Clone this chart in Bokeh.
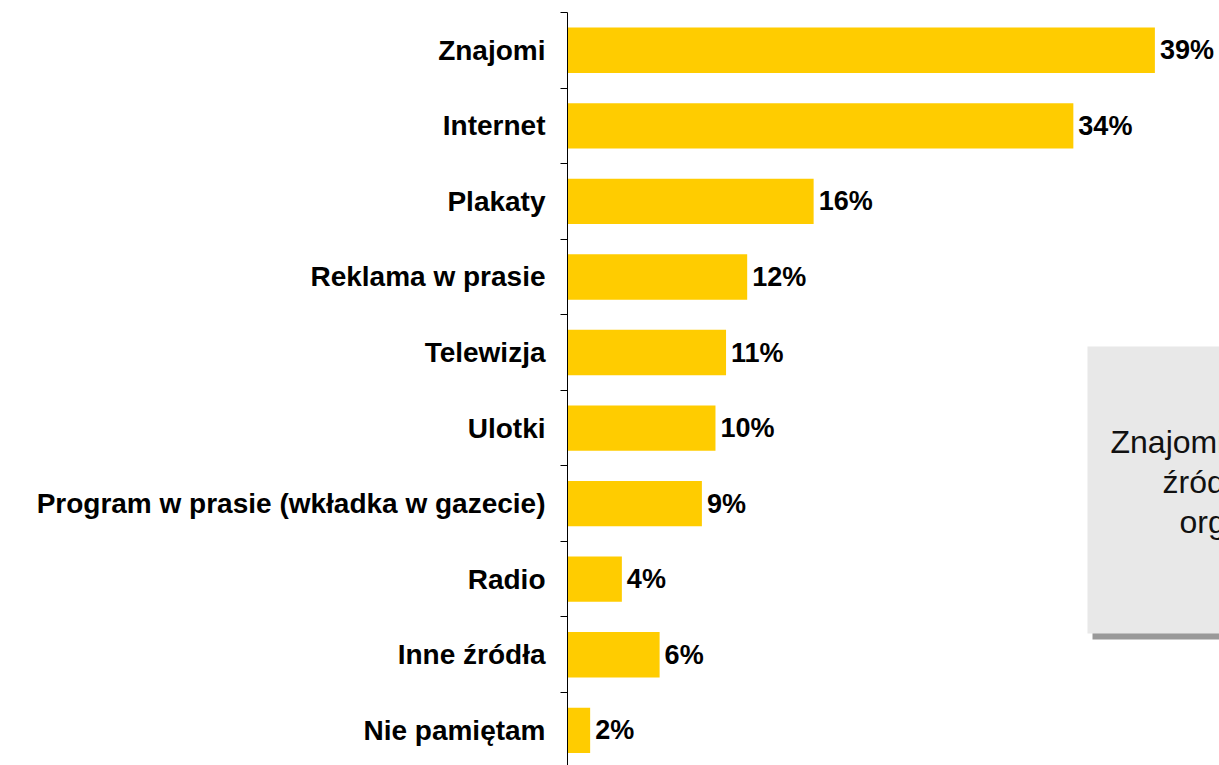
from bokeh.plotting import figure
from bokeh.models import (ColumnDataSource, Range1d, LinearAxis, FixedTicker,
                          BoxAnnotation, Label)
from bokeh.core.properties import value
from bokeh.embed import file_html
from bokeh.resources import INLINE

# ---- data ----
categories = ["Znajomi", "Internet", "Plakaty", "Reklama w prasie", "Telewizja",
              "Ulotki", "Program w prasie (wkładka w gazecie)", "Radio",
              "Inne źródła", "Nie pamiętam"]
values = [38.9, 33.5, 16.3, 11.9, 10.5, 9.8, 8.9, 3.6, 6.1, 1.5]
value_labels = ["39%", "34%", "16%", "12%", "11%", "10%", "9%", "4%", "6%", "2%"]
note_lines = ["Znajomi i Internet to", "źródła wiedzy", "organizacji"]

pos = list(range(len(categories)))
src = ColumnDataSource(dict(y=pos, v=values, lab=value_labels))

FONT = "Liberation Sans"
px_per_unit = 15.1
band = 75.56

p = figure(width=1219, height=765, output_backend="svg", toolbar_location=None,
           x_range=Range1d(0, 652 / px_per_unit),
           y_range=Range1d(start=-0.5 + 753 / band, end=-0.5),
           x_axis_location=None, y_axis_location=None,
           min_border_left=567, min_border_right=0,
           min_border_top=12, min_border_bottom=0)
p.outline_line_color = None
p.xgrid.visible = False
p.ygrid.visible = False
p.background_fill_color = "white"
p.border_fill_color = "white"

p.hbar(y="y", right="v", left=0, height=0.6, source=src,
       fill_color="#FFCC00", line_color=None)

p.text(x="v", y="y", text="lab", source=src, x_offset=5,
       text_font=value(FONT), text_font_style="bold",
       text_font_size="27px", text_baseline="middle", text_align="left",
       text_color="black")

yaxis = LinearAxis(
    ticker=FixedTicker(ticks=pos, minor_ticks=[i - 0.5 for i in range(len(categories) + 1)]),
    major_label_overrides={i: c for i, c in enumerate(categories)},
    major_tick_line_color=None, major_tick_out=0, major_tick_in=0,
    minor_tick_line_color="black", minor_tick_out=7, minor_tick_in=0,
    minor_tick_line_width=1,
    axis_line_color="black", axis_line_width=1,
    major_label_standoff=15,
    major_label_text_font=FONT, major_label_text_font_style="bold",
    major_label_text_font_size="28px", major_label_text_color="black",
)
p.add_layout(yaxis, "left")

# note box with shadow
def dx(px):
    return (px - 567) / px_per_unit

def dy(py):
    return (py - 12) / band - 0.5

p.add_layout(BoxAnnotation(left=dx(1092), right=dx(1500), top=dy(352), bottom=dy(639),
                           fill_color="#999999", fill_alpha=1, line_color=None))
p.add_layout(BoxAnnotation(left=dx(1087), right=dx(1500), top=dy(346), bottom=dy(633),
                           fill_color="#E8E8E8", fill_alpha=1, line_color=None))

for txt, xp, yp in zip(note_lines, [1110, 1162, 1179], [441, 481, 521]):
    p.add_layout(Label(x=dx(xp), y=dy(yp), text=txt, text_font=FONT,
                       text_font_size="32px", text_color="#111111",
                       text_baseline="alphabetic", text_align="left"))

open("out.html", "w").write(file_html(p, INLINE))
